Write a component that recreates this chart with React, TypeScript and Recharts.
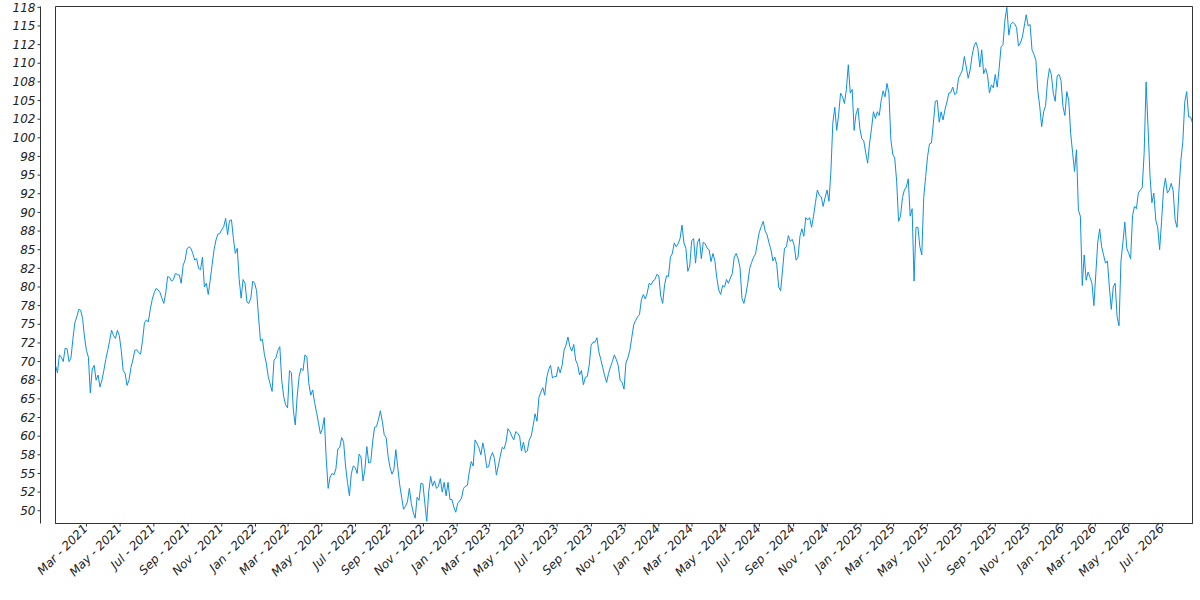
import React from 'react';
import { LineChart, Line, XAxis, YAxis, ReferenceArea } from 'recharts';

const startDate = '2021-01-04';

const closes2021 = [
  69.5, 68.5, 70.9, 70.6, 70.0, 71.8, 71.7, 70.0, 70.5, 73.0,
  75.2, 76.0, 77.0, 76.9, 75.8, 73.3, 71.5, 70.6, 65.8, 69.0,
  69.5, 67.5, 68.2, 66.6, 67.5, 68.8, 70.3, 71.5, 72.8, 74.2,
  73.5, 73.1, 74.2, 73.5, 71.5, 68.8, 68.4, 66.8, 67.5, 69.2,
  70.2, 71.5, 71.6, 71.2, 71.0, 72.8, 75.2, 75.6, 75.3, 77.0,
  78.3, 79.2, 79.8, 79.6, 79.3, 78.5, 77.8, 79.2, 81.4, 81.3,
  80.8, 81.0, 81.8, 81.7, 81.6, 80.5, 82.9, 83.6, 85.1, 85.4,
  85.2, 84.5, 83.6, 83.8, 82.5, 82.3, 84.0, 80.0, 80.5, 79.0,
  80.9, 83.0, 85.0, 86.3, 87.1, 87.2, 87.7, 88.1, 89.2, 87.0,
  88.9, 89.0, 86.5, 84.5, 85.2, 81.0, 78.5, 81.0, 80.5, 78.0,
  77.8, 78.5, 80.8, 80.5,
];
const closes2022 = [
  79.5, 76.0, 72.8, 73.0, 71.0, 69.8, 68.0, 67.0, 66.0, 70.2,
  70.5, 71.5, 72.0, 67.5, 65.3, 64.2, 63.8, 68.8, 68.5, 63.5,
  61.5, 65.4, 68.0, 69.1, 68.8, 70.9, 70.6, 67.1, 65.5, 66.2,
  64.5, 63.2, 61.8, 60.3, 61.0, 62.5, 57.0, 53.0, 54.5, 55.0,
  54.8, 55.6, 58.3, 58.5, 59.8, 59.2, 56.0, 53.8, 52.0, 55.0,
  56.0, 55.8, 55.0, 57.6, 57.2, 54.0, 55.5, 58.6, 56.4, 56.5,
  59.2, 61.2, 61.3, 62.2, 63.4, 62.0, 60.2, 59.8, 57.3, 55.8,
  54.9, 55.5, 58.2, 55.8, 53.5, 51.8, 50.2, 50.6, 51.2, 53.0,
  51.0, 49.8, 49.0, 51.8, 51.4, 53.7, 53.6, 51.0, 48.6, 52.5,
  54.6, 53.3, 54.0, 53.0, 53.3, 54.3, 52.5, 53.8, 52.0, 53.8,
  51.5, 51.5, 50.5, 49.8,
];
const closes2023 = [
  51.0, 51.3, 51.7, 53.0, 53.3, 53.4, 55.2, 56.6, 56.0, 59.5,
  59.0, 58.4, 57.5, 59.1, 57.8, 55.8, 55.9, 57.2, 57.8, 57.0,
  54.8, 56.0, 57.3, 58.5, 58.3, 59.2, 61.0, 60.6, 60.0, 59.5,
  60.6, 60.4, 60.0, 58.0, 59.2, 57.8, 58.0, 59.5, 60.0, 61.4,
  63.0, 62.0, 65.2, 65.9, 66.5, 65.5, 67.8, 68.9, 69.5, 67.8,
  68.0, 68.0, 69.3, 68.5, 69.5, 71.5, 72.2, 73.3, 72.0, 71.4,
  72.3, 70.2, 69.6, 68.2, 68.8, 66.9, 67.9, 68.0, 69.5, 72.2,
  72.6, 72.6, 73.2, 71.3, 70.3, 69.2, 68.1, 67.2, 68.4, 69.3,
  70.0, 70.9, 70.3, 69.5, 67.5, 67.2, 66.3, 69.8, 70.5, 71.5,
  73.2, 74.9, 75.5, 76.0, 76.3, 78.3, 79.0, 78.4, 79.2, 80.5,
  80.3, 80.8, 81.0, 81.7,
];
const closes2024 = [
  81.5, 78.8, 77.8, 80.3, 81.5, 81.4, 84.0, 84.5, 85.9, 85.4,
  85.8, 86.5, 88.3, 85.9, 85.2, 82.1, 82.8, 86.2, 86.5, 83.2,
  86.0, 86.5, 83.8, 86.0, 85.8, 85.2, 85.0, 83.4, 84.5, 83.5,
  81.2, 79.6, 79.0, 80.2, 80.0, 81.0, 80.5, 81.2, 81.8, 84.0,
  84.5, 83.8, 82.6, 78.5, 77.8, 79.0, 80.5, 82.5, 83.3, 84.0,
  84.4, 86.0, 87.4, 88.1, 88.8, 87.5, 87.0, 85.9, 85.0, 83.5,
  84.0, 83.0, 80.0, 79.5, 82.3, 85.2, 85.4, 86.9, 86.1, 86.4,
  85.6, 83.6, 84.0, 86.8, 87.8, 86.8, 89.3, 89.0, 89.3, 88.0,
  89.5, 91.3, 93.0, 92.3, 92.1, 90.8, 92.0, 93.0, 91.5, 95.5,
  102.0, 104.1, 101.0, 103.1, 106.0, 105.5, 104.6, 106.5, 109.8, 106.0,
  106.5, 101.0, 103.2, 104.0, 101.2, 99.9,
];
const closes2025 = [
  99.6, 98.0, 96.6, 99.3, 101.2, 103.5, 102.6, 103.5, 103.0, 105.0,
  106.3, 105.5, 107.3, 106.0, 99.8, 97.8, 97.3, 94.2, 88.8, 89.5,
  92.0, 93.0, 93.4, 94.5, 89.5, 90.5, 80.8, 88.0, 88.0, 85.4,
  84.3, 92.0, 94.8, 97.5, 99.2, 99.3, 102.0, 104.9, 105.0, 102.1,
  103.5, 102.4, 103.8, 104.8, 106.0, 106.1, 106.8, 105.8, 106.0, 108.0,
  108.5, 109.1, 110.9, 109.5, 108.0, 109.1, 111.0, 112.3, 112.8, 112.0,
  109.5, 111.8, 108.6, 109.3, 108.4, 106.0, 107.1, 106.7, 108.5, 106.8,
  109.3, 112.2, 112.5, 115.8, 117.5, 113.8, 115.2, 115.5, 115.3, 114.8,
  112.3, 112.7, 113.5, 115.0, 116.5, 115.0, 115.2, 111.8, 111.2, 110.4,
  106.3, 104.2, 101.5, 103.5, 104.3, 107.5, 109.3, 108.5, 106.0, 104.9,
  108.3, 108.5, 107.7, 104.2,
];
const closes2026 = [
  103.0, 106.2, 105.0, 100.6, 98.0, 95.5, 98.4, 90.3, 89.5, 80.2,
  84.3, 80.9, 82.0, 81.3, 80.5, 77.5, 81.8, 86.0, 87.8, 85.4,
  84.3, 83.2, 83.5, 80.0, 77.0, 80.0, 80.5, 76.0, 74.8, 83.5,
  85.9, 88.7, 85.2, 84.5, 83.8, 89.6, 90.8, 90.5, 92.6, 93.0,
  93.3, 98.0, 107.5, 101.5, 95.0, 91.3, 92.6, 89.0, 88.0, 85.0,
  88.8, 93.0, 94.6, 92.6, 93.0, 93.9, 92.9, 89.0, 88.0, 93.0,
  97.0, 99.5, 104.8, 106.2, 102.8, 102.8, 102.0,
];

const xTickMonths = [
  '2021-03', '2021-05', '2021-07', '2021-09', '2021-11',
  '2022-01', '2022-03', '2022-05', '2022-07', '2022-09', '2022-11',
  '2023-01', '2023-03', '2023-05', '2023-07', '2023-09', '2023-11',
  '2024-01', '2024-03', '2024-05', '2024-07', '2024-09', '2024-11',
  '2025-01', '2025-03', '2025-05', '2025-07', '2025-09', '2025-11',
  '2026-01', '2026-03', '2026-05', '2026-07',
];
const monthNames = ['Jan', 'Feb', 'Mar', 'Apr', 'May', 'Jun', 'Jul', 'Aug', 'Sep', 'Oct', 'Nov', 'Dec'];

const yTicks = [
  50, 52.5, 55, 57.5, 60, 62.5, 65, 67.5, 70, 72.5, 75, 77.5, 80, 82.5,
  85, 87.5, 90, 92.5, 95, 97.5, 100, 102.5, 105, 107.5, 110, 112.5, 115, 117.5,
];
const yDomain = [48.29, 117.61];

const STEP = 3.5 * 24 * 3600 * 1000;
const t0 = Date.parse(startDate + 'T00:00:00Z');
const closes = [...closes2021, ...closes2022, ...closes2023, ...closes2024, ...closes2025, ...closes2026];
const data = closes.map((value, i) => ({ t: t0 + i * STEP, value }));
const xDomain = [t0, data[data.length - 1].t];
const xTicks = xTickMonths.map((m) => Date.parse(m + '-01T00:00:00Z'));

const FONT = "'DejaVu Sans', Verdana, sans-serif";
const AXIS = '#333';
const SPINE_GAP = 15; // y axis line is detached from the plot frame

// labels are rounded half-to-even, so 52.5 shows as 52 and 57.5 as 58
const roundHalfEven = (v: number) => {
  const f = Math.floor(v);
  if (Math.abs(v - f - 0.5) < 1e-9) return f % 2 === 0 ? f : f + 1;
  return Math.round(v);
};

function MonthTick({ x, y, payload }: any) {
  const d = new Date(payload.value);
  const label = `${monthNames[d.getUTCMonth()]} - ${d.getUTCFullYear()}`;
  const ax = x - 1;
  return (
    <text x={ax} y={y} dy="0.35em" textAnchor="end" transform={`rotate(-45 ${ax} ${y})`}
      fontSize={12} fontFamily={FONT} fill="#222" style={{ fontStyle: 'italic' }}>
      {label}
    </text>
  );
}

// x here is where the label ends; tick mark and spine sit just right of it
function ValueTick({ x, y, payload }: any) {
  return (
    <g>
      <line x1={x + 2} x2={x + 5} y1={y} y2={y} stroke={AXIS} />
      <text x={x} y={y} dy="0.35em" textAnchor="end" fontSize={12} fontFamily={FONT} fill="#222"
        style={{ fontStyle: 'italic' }}>
        {roundHalfEven(payload.value)}
      </text>
    </g>
  );
}

function YSpine(props: any) {
  const vb = props.viewBox;
  if (!vb) return null;
  const sx = vb.x + vb.width - SPINE_GAP;
  return <line x1={sx} x2={sx} y1={vb.y} y2={vb.y + vb.height} stroke={AXIS} />;
}

export default function App() {
  return (
    <div style={{ position: 'absolute', left: 0, top: 0, width: 1200, height: 600, background: '#fff' }}>
      <LineChart width={1200} height={600} data={data} margin={{ top: 6.5, right: 7.5, bottom: 0, left: 0.5 }}>
        <XAxis xAxisId="time" dataKey="t" type="number" domain={xDomain} allowDataOverflow
          ticks={xTicks} interval={0} height={76.5} tickSize={3} tickMargin={0}
          tick={<MonthTick />} axisLine={{ stroke: AXIS }} tickLine={{ stroke: AXIS }} />
        <YAxis yAxisId="value" type="number" domain={yDomain} allowDataOverflow width={55}
          ticks={yTicks} interval={0} tickSize={0} tickMargin={SPINE_GAP + 5}
          tick={<ValueTick />} axisLine={false} tickLine={false} label={<YSpine />} />
        <ReferenceArea xAxisId="time" yAxisId="value" x1={xDomain[0]} x2={xDomain[1]}
          y1={yDomain[0]} y2={yDomain[1]} fill="none" stroke={AXIS} strokeWidth={1} />
        <Line xAxisId="time" yAxisId="value" type="linear" dataKey="value" stroke="#0e90e2"
          strokeWidth={1} dot={false} activeDot={false} isAnimationActive={false} />
      </LineChart>
    </div>
  );
}
